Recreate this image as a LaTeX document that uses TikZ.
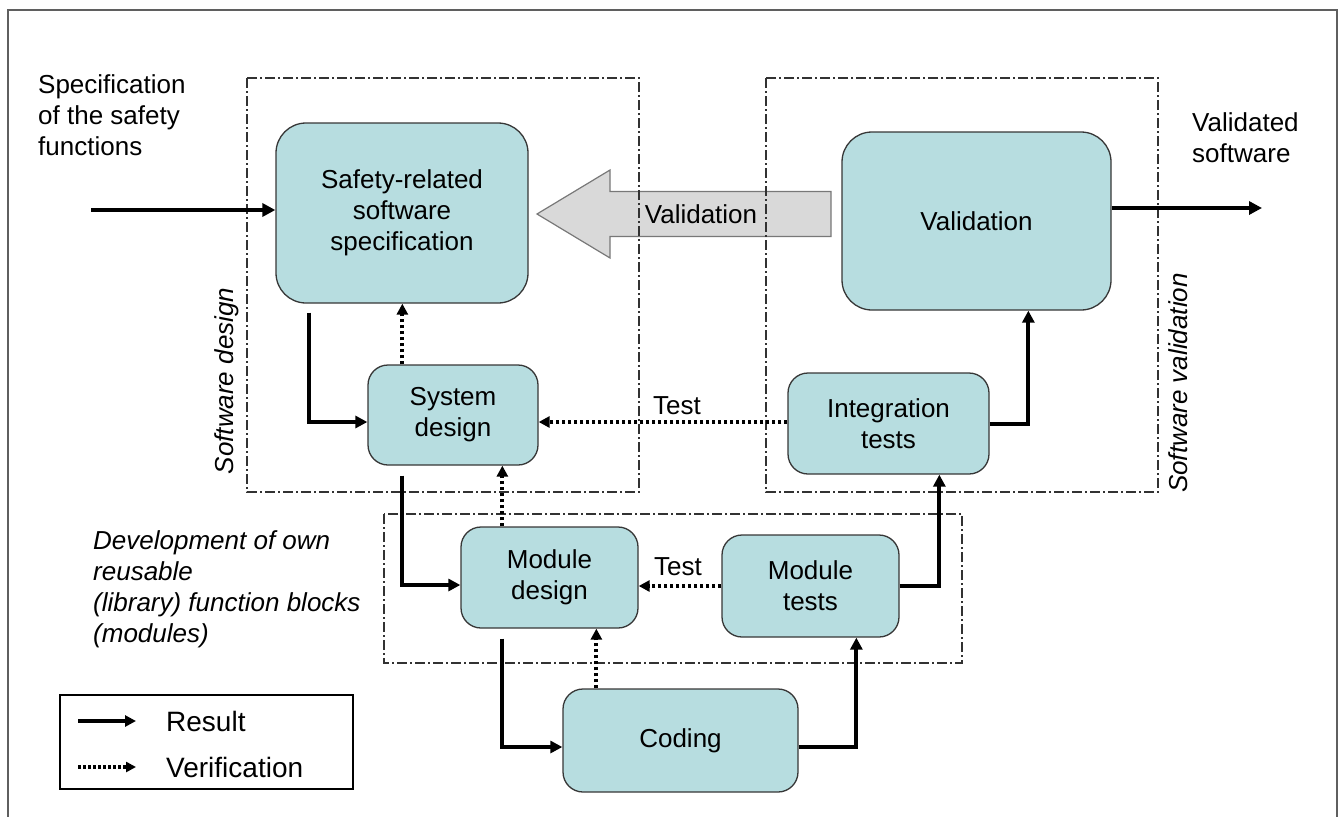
\documentclass[tikz,border=0pt]{standalone}
\usepackage{fontspec}
\setmainfont{Liberation Sans}
\usetikzlibrary{arrows.meta}
\definecolor{boxfill}{RGB}{183,221,224}
\definecolor{boxline}{RGB}{55,55,55}
\definecolor{bigfill}{RGB}{217,217,217}
\definecolor{bigline}{RGB}{120,120,120}
\definecolor{frameline}{RGB}{95,95,95}
\definecolor{grpline}{RGB}{50,50,50}

\begin{document}
\begin{tikzpicture}[x=1pt,y=-1pt,
  txt/.style={font=\fontsize{26}{31}\selectfont},
  itxt/.style={font=\fontsize{26}{31}\selectfont\itshape},
  proc/.style={draw=boxline, line width=1.3pt, fill=boxfill, rounded corners=20pt,
    align=center, inner sep=0pt, txt},
  grp/.style={draw=grpline, line width=1.1pt, dash pattern=on 10pt off 3pt on 2pt off 3pt},
  res/.style={line width=4pt, -{Triangle[length=12pt,width=12pt]}},
  ver/.style={line width=4pt, dash pattern=on 3.5pt off 2.5pt, -{Triangle[length=11pt,width=11pt]}},
  lbl/.style={txt, inner sep=0pt, align=left, anchor=north west}]

\useasboundingbox (0,0) rectangle (1340,816);

% page frame (open at the bottom)
\draw[frameline, line width=1.5pt] (8,830) -- (8,10) -- (1337,10) -- (1337,830);

% process boxes
\node[proc, minimum width=252pt, minimum height=180pt, rounded corners=30pt] (safety) at (402,213) {Safety-related\\software\\specification};
\node[proc, minimum width=269pt, minimum height=178pt, rounded corners=30pt] (valbox) at (976.5,221) {Validation};
\node[proc, minimum width=170pt, minimum height=100pt] (system) at (453,415) {System\\design};
\node[proc, minimum width=201pt, minimum height=101pt] (integ) at (888.5,423.5) {Integration\\tests};
\node[proc, minimum width=177pt, minimum height=101pt] (moddes) at (549.5,577.5) {Module\\design};
\node[proc, minimum width=177pt, minimum height=102pt] (modtest) at (810.5,586) {Module\\tests};
\node[proc, minimum width=235pt, minimum height=103pt] (coding) at (680.5,740.5) {Coding};

% broad validation arrow
\draw[fill=bigfill, draw=bigline, line width=1.2pt]
  (831,191.5) -- (610,191.5) -- (610,170) -- (537,214) -- (610,258) -- (610,236.5) -- (831,236.5) -- cycle;
\node[txt, inner sep=0pt] (vallbl) at (701,214) {Validation};

% phase groups
\draw[grp] (247,78) rectangle (639,492);
\draw[grp] (766,78) rectangle (1158,492);
\draw[grp] (384,514) rectangle (962,663);

% free texts
\node[lbl] (spec) at (38,74) {Specification\\of the safety\\functions};
\node[lbl] (valsw) at (1192,112) {Validated\\software};
\node[lbl, itxt] (dev) at (93,530) {Development of own\\reusable\\(library) function blocks\\(modules)};
\node[itxt, rotate=90, inner sep=0pt] (swdes) at (227,381) {Software design};
\node[itxt, rotate=90, inner sep=0pt] (swval) at (1178,383) {Software validation};
\node[txt, inner sep=0pt] (test1) at (677,406) {Test};
\node[txt, inner sep=0pt] (test2) at (678,567) {Test};

% input and output
\coordinate (inA) at (91,210);
\coordinate (outA) at (1262,208);
\draw[line width=4.5pt, -{Triangle[length=13pt,width=13pt]}] (inA) -- (inA -| safety.west);
\draw[line width=4.5pt, -{Triangle[length=13pt,width=13pt]}] ([shift={(0,-13)}]valbox.east) -- (outA);

% results (downwards on the left, upwards on the right)
\draw[res] ([shift={(34,9)}]safety.south west) |- ([shift={(0,7)}]system.west);
\draw[res] ([shift={(35,10)}]system.south west) |- ([shift={(0,7.5)}]moddes.west);
\draw[res] ([shift={(42,10)}]moddes.south west) |- ([shift={(0,6.5)}]coding.west);
\draw[res] ([shift={(0,6.5)}]coding.east) -| ([shift={(135,0)}]modtest.south west);
\draw[res] (modtest.east) -| ([shift={(152,0)}]integ.south west);
\draw[res] (integ.east) -| ([shift={(187,0)}]valbox.south west);

% verifications
\draw[ver] ([shift={(35,0)}]system.north west) -- ([shift={(35,0)}]system.north west |- safety.south);
\draw[ver] ([shift={(42,0)}]moddes.north west) -- ([shift={(42,0)}]moddes.north west |- system.south);
\draw[ver] ([shift={(34,0)}]coding.north west) -- ([shift={(34,0)}]coding.north west |- moddes.south);
\draw[ver] ([shift={(0,-1.5)}]integ.west) -- ([shift={(0,-1.5)}]integ.west -| system.east);
\draw[ver] (modtest.west) -- (modtest.west -| moddes.east);

% legend
\node[draw, line width=1.3pt, minimum width=293pt, minimum height=94pt, inner sep=0pt] (legend) at (206.5,742) {};
\coordinate (lgA) at (78,721);
\coordinate (lgB) at (136,721);
\coordinate (lgC) at (78,767);
\coordinate (lgD) at (136,767);
\draw[line width=4pt, -{Triangle[length=11pt,width=11pt]}] (lgA) -- (lgB);
\draw[line width=3.5pt, dash pattern=on 3pt off 2pt, -{Triangle[length=10pt,width=10pt]}] (lgC) -- (lgD);
\node[font=\fontsize{28}{32}\selectfont, anchor=west, inner sep=0pt] (lgres) at (166,721) {Result};
\node[font=\fontsize{28}{32}\selectfont, anchor=west, inner sep=0pt] (lgver) at (166,767) {Verification};
\end{tikzpicture}
\end{document}
